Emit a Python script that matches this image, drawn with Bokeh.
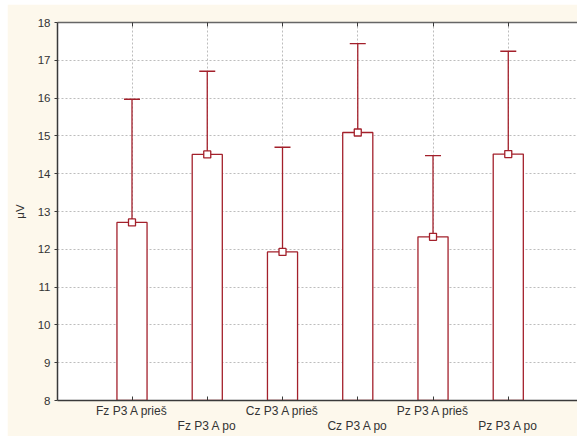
from bokeh.plotting import figure
from bokeh.models import (ColumnDataSource, FixedTicker, LinearAxis, Range1d,
                          Whisker, TeeHead)
from bokeh.embed import file_html
from bokeh.resources import INLINE

categories = ["Fz P3 A prieš", "Fz P3 A po", "Cz P3 A prieš",
              "Cz P3 A po", "Pz P3 A prieš", "Pz P3 A po"]
means = [12.71, 14.51, 11.93, 15.09, 12.33, 14.52]
upper = [15.97, 16.71, 14.70, 17.44, 14.48, 17.24]
lower = [9.45, 12.29, 9.16, 12.73, 10.17, 11.79]
y_ticks = [8, 9, 10, 11, 12, 13, 14, 15, 16, 17, 18]

RED = "#a3202b"
AX = "#3a3a3a"
FONT = "Liberation Sans"

xs = list(range(len(categories)))
src = ColumnDataSource(dict(x=xs, mean=means, upper=upper, lower=lower))

p = figure(width=570, height=432, output_backend="svg", toolbar_location=None,
           x_range=Range1d(-0.99, 5.92), y_range=Range1d(8, 18),
           min_border_left=50, min_border_top=18, min_border_right=0,
           min_border_bottom=35)
p.styles = {"margin-left": "7px", "margin-top": "4px"}
p.background_fill_color = "white"
p.border_fill_color = "#fdf8ec"
p.outline_line_color = None

# bars
p.vbar(x="x", top="mean", bottom=0, width=0.40, source=src,
       fill_color="white", line_color=RED, line_width=1.3)
# whiskers
w = Whisker(base="x", upper="upper", lower="lower", source=src,
            line_color=RED, line_width=1.3,
            upper_head=TeeHead(size=16, line_color=RED, line_width=1.3),
            lower_head=TeeHead(size=16, line_color=RED, line_width=1.3))
p.add_layout(w)
# mean markers
p.scatter(x="x", y="mean", source=src, marker="square", size=7,
          fill_color="white", line_color=RED, line_width=1.3)

# axes
xa = p.xaxis[0]
xa.ticker = FixedTicker(ticks=xs)
xa.major_label_overrides = {i: (c if i % 2 == 0 else "\n" + c)
                            for i, c in enumerate(categories)}
xa.major_tick_in = 4
xa.major_tick_out = 0
xa.minor_tick_line_color = None
xa.axis_line_color = AX
xa.axis_line_width = 1.5
xa.major_tick_line_color = AX
xa.major_label_standoff = 3
xa.major_label_text_font = FONT
xa.major_label_text_font_size = "12px"
xa.major_label_text_color = "#333333"
xa.major_label_text_line_height = 1.12

ya = p.yaxis[0]
ya.ticker = FixedTicker(ticks=y_ticks)
ya.major_tick_in = 0
ya.major_tick_out = 3
ya.minor_tick_line_color = None
ya.axis_line_color = AX
ya.axis_line_width = 1.5
ya.major_tick_line_color = AX
ya.major_label_standoff = 4
ya.major_label_text_font = FONT
ya.major_label_text_font_size = "11.5px"
ya.major_label_text_color = "#333333"
ya.axis_label = "μV"
ya.axis_label_text_font = FONT
ya.axis_label_text_font_size = "11.5px"
ya.axis_label_text_font_style = "normal"
ya.axis_label_text_color = "#333333"
ya.axis_label_standoff = 9

top = LinearAxis(ticker=FixedTicker(ticks=xs))
top.major_label_overrides = {i: "" for i in xs}
top.major_label_standoff = 0
top.major_tick_in = 4
top.major_tick_out = 0
top.minor_tick_line_color = None
top.axis_line_color = "#666666"
top.axis_line_width = 1.5
top.major_tick_line_color = AX
p.add_layout(top, "above")

# grids
p.xgrid.ticker = FixedTicker(ticks=xs)
p.ygrid.ticker = FixedTicker(ticks=y_ticks)
for g in (p.xgrid[0], p.ygrid[0]):
    g.grid_line_color = "#bdbdbd"
    g.grid_line_dash = "2 2"
    g.grid_line_width = 1

open("out.html", "w").write(file_html(p, INLINE))
